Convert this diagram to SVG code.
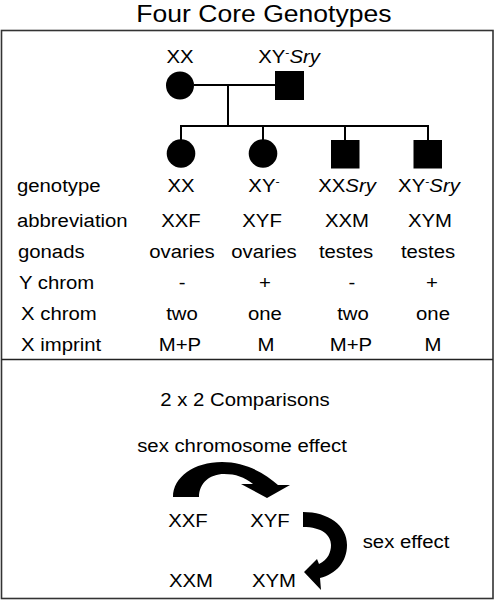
<svg xmlns="http://www.w3.org/2000/svg" width="495" height="600" viewBox="0 0 495 600">
<style>
text{font-family:"Liberation Sans",Arial,sans-serif;font-size:18px;fill:#000}
.c{text-anchor:middle}
.title{font-size:23.5px}
.sup{font-size:11px}
.it{font-style:italic}
.ln{stroke:#000;stroke-width:2;fill:none}
.sym{fill:#000}
</style>
<rect x="1.5" y="30.5" width="491.5" height="568" fill="#fff" stroke="#333" stroke-width="1.6"/>
<line x1="1.5" y1="359.5" x2="493" y2="359.5" stroke="#222" stroke-width="1.6"/>
<g transform="scale(1.13 1)">
<text class="c title" x="233.6" y="22">Four Core Genotypes</text>
</g>
<g id="connectors">
<line class="ln" x1="194" y1="85" x2="275" y2="85"/>
<line class="ln" x1="228" y1="85" x2="228" y2="126"/>
<line class="ln" x1="180" y1="126" x2="429" y2="126"/>
<line class="ln" x1="181" y1="125" x2="181" y2="140"/>
<line class="ln" x1="263" y1="125" x2="263" y2="140"/>
<line class="ln" x1="345" y1="125" x2="345" y2="140"/>
<line class="ln" x1="428" y1="125" x2="428" y2="140"/>
</g>
<g id="mother">
<circle class="sym" cx="180" cy="85.5" r="14"/>
<g transform="scale(1.13 1)"><text class="c" x="159.3" y="63">XX</text></g>
</g>
<g id="father">
<rect class="sym" x="275" y="71" width="29" height="29"/>
<g transform="scale(1.13 1)"><text class="c" x="255.8" y="63">XY<tspan class="sup" dy="-7">-</tspan><tspan class="it" dy="7">Sry</tspan></text></g>
</g>
<g id="XXF">
<circle class="sym" cx="181" cy="153.5" r="14.3"/>
</g>
<g id="XYF">
<circle class="sym" cx="263" cy="153.5" r="14.3"/>
</g>
<g id="XXM">
<rect class="sym" x="331" y="140" width="28.5" height="28.5"/>
</g>
<g id="XYM">
<rect class="sym" x="413.5" y="140" width="28.5" height="28.5"/>
</g>
<g id="table" transform="scale(1.13 1)">
<text x="15" y="192">genotype</text>
<text x="15" y="227">abbreviation</text>
<text x="15.9" y="258">gonads</text>
<text x="16.8" y="289">Y chrom</text>
<text x="18.6" y="320">X chrom</text>
<text x="18.6" y="351">X imprint</text>
<text class="c" x="160.2" y="192">XX</text>
<text class="c" x="233.6" y="192">XY<tspan class="sup" dy="-7">-</tspan></text>
<text class="c" x="307.1" y="192">XX<tspan class="it">Sry</tspan></text>
<text class="c" x="379.6" y="192">XY<tspan class="sup" dy="-7">-</tspan><tspan class="it" dy="7">Sry</tspan></text>
<text class="c" x="160.2" y="227">XXF</text>
<text class="c" x="231.9" y="227">XYF</text>
<text class="c" x="307.1" y="227">XXM</text>
<text class="c" x="380.5" y="227">XYM</text>
<text class="c" x="161.1" y="258">ovaries</text>
<text class="c" x="233.6" y="258">ovaries</text>
<text class="c" x="306.2" y="258">testes</text>
<text class="c" x="378.8" y="258">testes</text>
<text class="c" x="161.1" y="289">-</text>
<text class="c" x="234.5" y="289">+</text>
<text class="c" x="311.5" y="289">-</text>
<text class="c" x="382.3" y="289">+</text>
<text class="c" x="161.1" y="320">two</text>
<text class="c" x="234.5" y="320">one</text>
<text class="c" x="312.4" y="320">two</text>
<text class="c" x="383.2" y="320">one</text>
<text class="c" x="159.3" y="351">M+P</text>
<text class="c" x="235.4" y="351">M</text>
<text class="c" x="310.6" y="351">M+P</text>
<text class="c" x="383.2" y="351">M</text>
</g>
<g id="comparisons" transform="scale(1.13 1)">
<text class="c" x="216.8" y="406">2 x 2 Comparisons</text>
<text class="c" x="214.2" y="452">sex chromosome effect</text>
<text class="c" x="166.4" y="527">XXF</text>
<text class="c" x="238.9" y="527">XYF</text>
<text class="c" x="169" y="587">XXM</text>
<text class="c" x="242.5" y="587">XYM</text>
<text class="c" x="359.3" y="548">sex effect</text>
</g>
<g id="arrow-sex-chromosome">
<path class="sym" d="M173,497 C173,477 194,462 222,462 C246,462 266,474 278,485 L290,485 L267,498 L241,484 L253,484 C244,477 236,474 224,474 C210,474 199,483 199,497 Z"/>
</g>
<g id="arrow-sex">
<path class="sym" d="M303,512 C328,512 347,525 347,545 C347,562 336,574 320,578 L321,590 L304,572 L317,559 L319,564 C328,560 331,552 331,545 C331,535 322,527 303,527 Z"/>
</g>
</svg>
